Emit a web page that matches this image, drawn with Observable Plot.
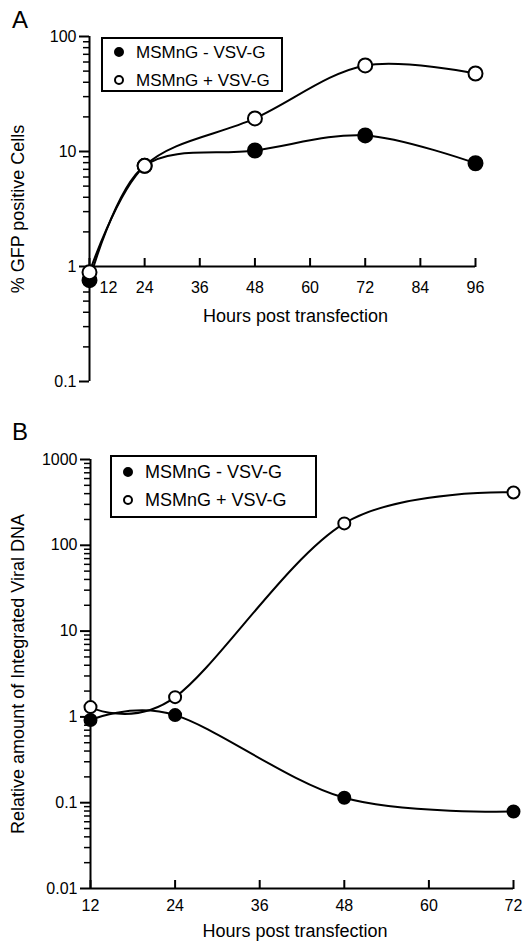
<!DOCTYPE html>
<html>
<head>
<meta charset="utf-8">
<script src="https://cdn.jsdelivr.net/npm/d3@7"></script>
<script src="https://cdn.jsdelivr.net/npm/@observablehq/plot@0.6"></script>
<style>
  html, body { margin: 0; padding: 0; background: #fff; }
  body { font-family: "Liberation Sans", Arial, Helvetica, sans-serif; color: #000; }
  #wrap { position: relative; width: 531px; height: 944px; overflow: hidden; background: #fff; }
  .letter { position: absolute; font-size: 24px; line-height: 24px; }
  .legend { position: absolute; border: 2px solid #000; background: #fff; box-sizing: border-box; }
  .legend svg { position: absolute; overflow: visible; }
  .legend span { position: absolute; line-height: 1; white-space: nowrap; }
</style>
</head>
<body>
<div id="wrap"></div>
<script>
// ---------- data ----------
const seriesNames = ["MSMnG - VSV-G", "MSMnG + VSV-G"];

// Panel A: % GFP positive cells
const hoursA = [12, 24, 48, 72, 96];
const gfpMinus = [0.76, 7.5, 10.2, 13.8, 7.9];
const gfpPlus = [0.89, 7.5, 19.4, 56, 47.7];
const xTicksA = [12, 24, 36, 48, 60, 72, 84, 96];
const yTicksA = [0.1, 1, 10, 100];
const titleXA = "Hours post transfection";
const titleYA = "% GFP positive Cells";

// Panel B: relative amount of integrated viral DNA
const hoursB = [12, 24, 48, 72];
const dnaMinus = [0.92, 1.05, 0.114, 0.079];
const dnaPlus = [1.3, 1.7, 180, 413];
const xTicksB = [12, 24, 36, 48, 60, 72];
const yTicksB = [0.01, 0.1, 1, 10, 100, 1000];
const titleXB = "Hours post transfection";
const titleYB = "Relative amount of Integrated Viral DNA";

// ---------- helpers ----------
const wrap = document.getElementById("wrap");
const FONT = "Liberation Sans, Arial, Helvetica, sans-serif";
const minorTicks = (ticks) => ticks.slice(0, -1).flatMap(d => [2, 3, 4, 5, 6, 7, 8, 9].map(k => d * k));
const rows = (hours, minus, plus) => [
  ...hours.map((h, i) => ({hour: h, value: minus[i], series: seriesNames[0]})),
  ...hours.map((h, i) => ({hour: h, value: plus[i], series: seriesNames[1]}))
];

function panel(cfg) {
  const {top, height, mt, mb, ml, mr, xDomain, xTicks, yTicks, data, axisAt, dotR, curve, tension,
         titleX, titleY, titleXdx, titleXdy, shiftFirst, tickPad, tickFont, titleFont} = cfg;
  const yS = Plot.scale({y: {type: "log", domain: [yTicks[0], yTicks[yTicks.length - 1]], range: [height - mb, mt]}});
  const axisPix = yS.apply(axisAt);
  const bottomPix = height - mb;
  const labelTicks = shiftFirst ? xTicks.slice(1) : xTicks;
  const lineOpts = {x: "hour", y: "value", z: "series", curve, stroke: "#000", strokeWidth: 2};
  if (tension !== undefined) lineOpts.tension = tension;
  const marks = [
    Plot.axisY(minorTicks(yTicks), {anchor: "left", tickSize: 6, fill: "none", label: null, strokeWidth: 1.5}),
    Plot.axisY(yTicks, {anchor: "left", tickSize: 10, tickPadding: 3, tickFormat: d => String(d), label: null,
                        strokeWidth: 2, fontSize: tickFont}),
    Plot.ruleX([xDomain[0]], {y1: yTicks[0], y2: yTicks[yTicks.length - 1], strokeWidth: 2}),
    Plot.ruleY([axisAt], {x1: xDomain[0], x2: xDomain[1], strokeWidth: 2}),
    Plot.axisX(xTicks, {anchor: "top", tickSize: 9, fill: "none", label: null, strokeWidth: 2, dy: axisPix - mt}),
    Plot.axisX(labelTicks, {anchor: "bottom", tickSize: 0, tickPadding: tickPad, label: null,
                            dy: axisPix - bottomPix, fontSize: tickFont}),
    shiftFirst ? Plot.axisX([xTicks[0]], {anchor: "bottom", tickSize: 0, tickPadding: tickPad, label: null,
                            dy: axisPix - bottomPix, dx: shiftFirst, fontSize: tickFont}) : null,
    Plot.text([titleX], {text: d => d, frameAnchor: "bottom", textAnchor: "middle", lineAnchor: "middle",
                         dx: titleXdx, dy: axisPix - bottomPix + titleXdy, fontSize: titleFont}),
    Plot.text([titleY], {text: d => d, frameAnchor: "left", textAnchor: "middle", lineAnchor: "middle",
                         dx: -(ml - 18), rotate: -90, fontSize: titleFont}),
    Plot.line(data, lineOpts),
    Plot.dot(data.filter(d => d.series === seriesNames[0]), {x: "hour", y: "value", r: dotR, fill: "series", stroke: "#000", strokeWidth: 2}),
    Plot.dot(data.filter(d => d.series === seriesNames[1]), {x: "hour", y: "value", r: dotR, fill: "series", stroke: "#000", strokeWidth: 2})
  ].filter(Boolean);
  const svg = Plot.plot({
    width: 531, height,
    marginTop: mt, marginBottom: mb, marginLeft: ml, marginRight: mr,
    style: {fontFamily: FONT, fontSize: tickFont + "px", color: "#000", background: "transparent", overflow: "visible"},
    x: {domain: xDomain},
    y: {type: "log", domain: [yTicks[0], yTicks[yTicks.length - 1]]},
    color: {domain: seriesNames, range: ["#000", "#fff"]},
    marks
  });
  svg.style.position = "absolute";
  svg.style.left = "0px";
  svg.style.top = top + "px";
  wrap.appendChild(svg);
}

function letter(txt, left, top) {
  const s = document.createElement("div");
  s.className = "letter";
  s.textContent = txt;
  s.style.left = left + "px";
  s.style.top = top + "px";
  wrap.appendChild(s);
}

function legend(left, top, w, h, rowYs, markerX, textX, fontSize, r) {
  const box = document.createElement("div");
  box.className = "legend";
  Object.assign(box.style, {left: left + "px", top: top + "px", width: w + "px", height: h + "px"});
  seriesNames.forEach((name, i) => {
    const ns = "http://www.w3.org/2000/svg";
    const svg = document.createElementNS(ns, "svg");
    svg.setAttribute("width", 2 * r + 4);
    svg.setAttribute("height", 2 * r + 4);
    svg.style.left = (markerX - left - 2 - r - 2) + "px";
    svg.style.top = (rowYs[i] - top - 2 - r - 2) + "px";
    const c = document.createElementNS(ns, "circle");
    c.setAttribute("cx", r + 2); c.setAttribute("cy", r + 2); c.setAttribute("r", r);
    c.setAttribute("fill", i === 0 ? "#000" : "#fff");
    c.setAttribute("stroke", "#000"); c.setAttribute("stroke-width", 2);
    svg.appendChild(c);
    box.appendChild(svg);
    const t = document.createElement("span");
    t.textContent = name;
    t.style.fontSize = fontSize + "px";
    t.style.left = (textX - left - 2) + "px";
    t.style.top = (rowYs[i] - top - 2 - fontSize * 0.5) + "px";
    box.appendChild(t);
  });
  wrap.appendChild(box);
}

// ---------- Panel A ----------
panel({
  top: 0, height: 400, mt: 36, mb: 19, ml: 89, mr: 56,
  xDomain: [xTicksA[0], xTicksA[xTicksA.length - 1]], xTicks: xTicksA, yTicks: yTicksA,
  data: rows(hoursA, gfpMinus, gfpPlus), axisAt: 1, dotR: 7, curve: "catmull-rom",
  titleX: titleXA, titleY: titleYA, titleXdx: 13, titleXdy: 50, shiftFirst: 19, tickPad: 15,
  tickFont: 16, titleFont: 18
});
letter("A", 12, 8);
legend(101, 37, 182, 55, [52, 80], 119, 136, 17, 4);

// ---------- Panel B ----------
panel({
  top: 400, height: 544, mt: 59, mb: 56, ml: 90, mr: 18,
  xDomain: [xTicksB[0], xTicksB[xTicksB.length - 1]], xTicks: xTicksB, yTicks: yTicksB,
  data: rows(hoursB, dnaMinus, dnaPlus), axisAt: yTicksB[0], dotR: 6, curve: "cardinal", tension: 0,
  titleX: titleXB, titleY: titleYB, titleXdx: -7, titleXdy: 43, shiftFirst: 0, tickPad: 11,
  tickFont: 16, titleFont: 18
});
letter("B", 12, 420);
legend(110, 455, 207, 63, [472, 500], 128, 145, 18, 4);
</script>
</body>
</html>
